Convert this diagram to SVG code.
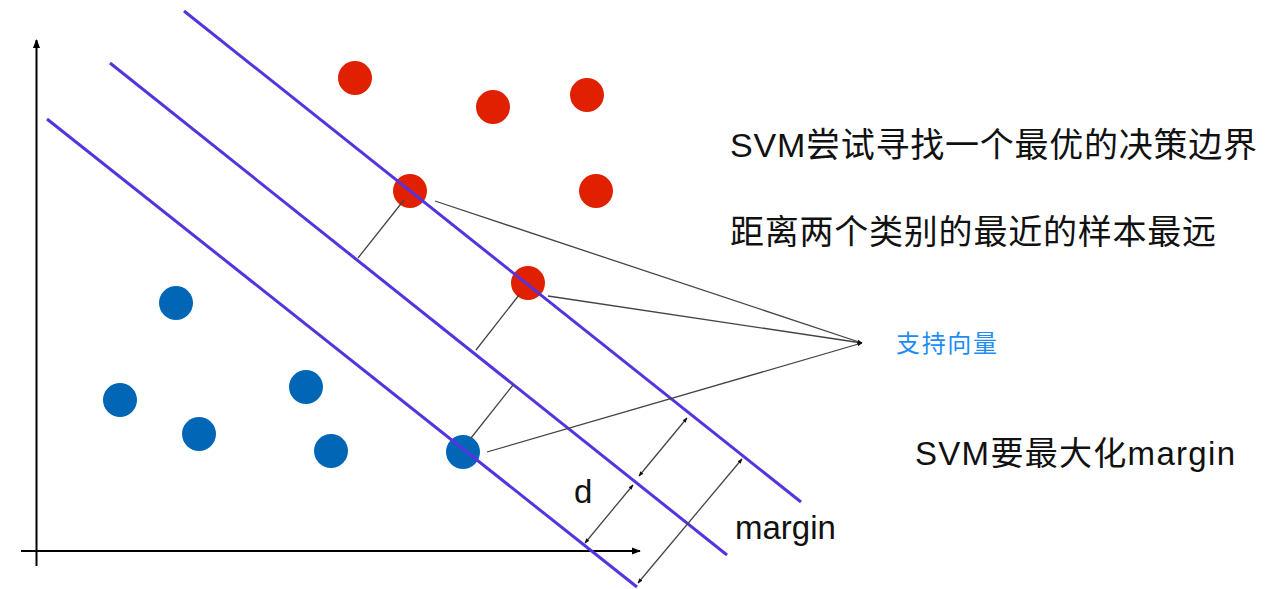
<svg xmlns="http://www.w3.org/2000/svg" width="1275" height="589" viewBox="0 0 1275 589">
<defs>
<marker id="ah" viewBox="0 0 10 10" refX="9" refY="5" markerWidth="5" markerHeight="5" orient="auto-start-reverse" markerUnits="userSpaceOnUse">
<path d="M0,1 L10,5 L0,9 Z" fill="#111"/>
</marker>
<marker id="axh" viewBox="0 0 10 10" refX="9" refY="5" markerWidth="9" markerHeight="9" orient="auto" markerUnits="userSpaceOnUse">
<path d="M0,1 L10,5 L0,9 Z" fill="#000"/>
</marker>
<style>
.ax{stroke:#000;stroke-width:2;fill:none}
.hp{stroke:#5533dd;stroke-width:3;fill:none}
.thin{stroke:#444;stroke-width:1.3;fill:none}
.dim{stroke:#444;stroke-width:1.3;fill:none;marker-start:url(#ah);marker-end:url(#ah)}
.red{fill:#e02000}
.blue{fill:#0066b5}
.t{font-family:"Liberation Sans","Noto Sans CJK SC",sans-serif;fill:#111}
</style>
</defs>
<rect width="1275" height="589" fill="#fff"/>
<g id="axes">
<line class="ax" x1="36.5" y1="566" x2="36.5" y2="40" marker-end="url(#axh)"/>
<line class="ax" x1="21" y1="551" x2="640" y2="551" marker-end="url(#axh)"/>
</g>
<g id="red-points">
<circle class="red" cx="355" cy="78" r="17"/>
<circle class="red" cx="493" cy="107" r="17"/>
<circle class="red" cx="587" cy="95" r="17"/>
<circle class="red" cx="410" cy="191" r="17"/>
<circle class="red" cx="596" cy="191" r="17"/>
<circle class="red" cx="528" cy="283" r="17"/>
</g>
<g id="blue-points">
<circle class="blue" cx="176" cy="303" r="17"/>
<circle class="blue" cx="120" cy="400" r="17"/>
<circle class="blue" cx="199" cy="434" r="17"/>
<circle class="blue" cx="306" cy="387" r="17"/>
<circle class="blue" cx="331" cy="451" r="17"/>
<circle class="blue" cx="463" cy="452" r="17"/>
</g>
<g id="hyperplanes">
<line class="hp" x1="184" y1="11" x2="801" y2="502"/>
<line class="hp" x1="110" y1="63" x2="727" y2="555"/>
<line class="hp" x1="47" y1="119" x2="637" y2="587"/>
</g>
<g id="connectors">
<line class="thin" x1="404" y1="200" x2="358" y2="258"/>
<line class="thin" x1="519" y1="295" x2="476" y2="350"/>
<line class="thin" x1="513" y1="385" x2="471" y2="438"/>
<line class="thin" x1="435" y1="201" x2="862" y2="343" marker-end="url(#ah)"/>
<line class="thin" x1="548" y1="296" x2="862" y2="343" marker-end="url(#ah)"/>
<line class="thin" x1="487" y1="452" x2="862" y2="343" marker-end="url(#ah)"/>
<line class="dim" x1="585" y1="543" x2="633" y2="485"/>
<line class="dim" x1="639" y1="476" x2="687" y2="418"/>
<line class="dim" x1="638" y1="583" x2="742" y2="459"/>
</g>
<g id="labels">
<text class="t" x="730" y="157" font-size="34" textLength="527" lengthAdjust="spacing">SVM尝试寻找一个最优的决策边界</text>
<text class="t" x="730" y="244" font-size="34" textLength="486" lengthAdjust="spacing">距离两个类别的最近的样本最远</text>
<text class="t" x="896" y="352" font-size="24" fill="#1e8cf5" style="fill:#1e8cf5" textLength="101" lengthAdjust="spacing">支持向量</text>
<text class="t" x="915" y="465" font-size="33" textLength="320" lengthAdjust="spacing">SVM要最大化margin</text>
<text class="t" x="574" y="503" font-size="33">d</text>
<text class="t" x="735" y="539" font-size="33">margin</text>
</g>
</svg>
